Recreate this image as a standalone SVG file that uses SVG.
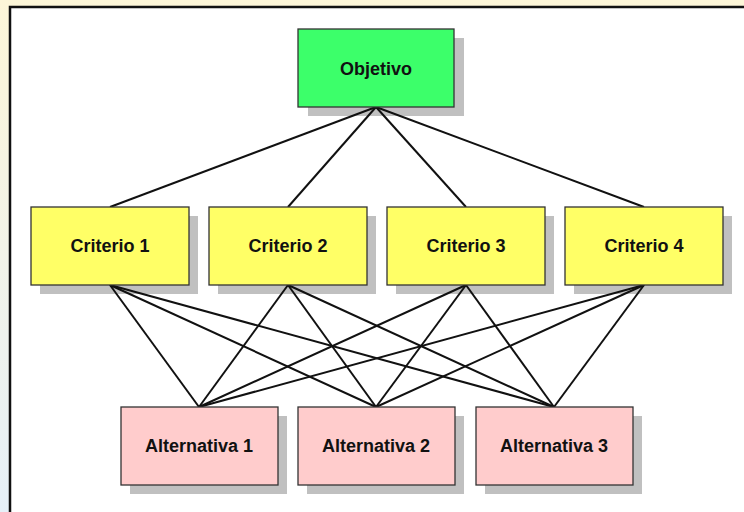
<svg xmlns="http://www.w3.org/2000/svg" width="744" height="512" viewBox="0 0 744 512">
<defs>
<linearGradient id="bg" x1="0" y1="0" x2="0" y2="1">
<stop offset="0" stop-color="#fdf6d8"/>
<stop offset="1" stop-color="#e6f0f8"/>
</linearGradient>
</defs>
<style>
.sh{fill:#c0c0c0}
.bx{stroke:#333;stroke-width:1.3}
.obj{fill:#3cff6a}
.cri{fill:#ffff66}
.alt{fill:#ffcccc}
text{font-family:"Liberation Sans",Arial,sans-serif;font-weight:bold;font-size:18px;fill:#111;text-anchor:middle;dominant-baseline:central}
#connectors line{stroke:#111;stroke-width:2}
</style>
<rect width="744" height="512" fill="url(#bg)"/>
<rect x="10" y="7" width="740" height="510" fill="#fff" stroke="#111" stroke-width="2.5"/>
<g id="shadows">
<rect class="sh" x="308" y="38" width="156" height="78"/>
<rect class="sh" x="40" y="216" width="158" height="78"/>
<rect class="sh" x="218" y="216" width="158" height="78"/>
<rect class="sh" x="396" y="216" width="158" height="78"/>
<rect class="sh" x="574" y="216" width="158" height="78"/>
<rect class="sh" x="130" y="416" width="157" height="78"/>
<rect class="sh" x="307" y="416" width="157" height="78"/>
<rect class="sh" x="485" y="416" width="157" height="78"/>
</g>
<g id="connectors">
<line x1="376" y1="107" x2="110" y2="207"/>
<line x1="376" y1="107" x2="288" y2="207"/>
<line x1="376" y1="107" x2="466" y2="207"/>
<line x1="376" y1="107" x2="644" y2="207"/>
<line x1="110" y1="285" x2="199" y2="407"/>
<line x1="110" y1="285" x2="376" y2="407"/>
<line x1="110" y1="285" x2="554" y2="407"/>
<line x1="288" y1="285" x2="199" y2="407"/>
<line x1="288" y1="285" x2="376" y2="407"/>
<line x1="288" y1="285" x2="554" y2="407"/>
<line x1="466" y1="285" x2="199" y2="407"/>
<line x1="466" y1="285" x2="376" y2="407"/>
<line x1="466" y1="285" x2="554" y2="407"/>
<line x1="644" y1="285" x2="199" y2="407"/>
<line x1="644" y1="285" x2="376" y2="407"/>
<line x1="644" y1="285" x2="554" y2="407"/>
</g>
<g id="objetivo">
<rect class="bx obj" x="298" y="29" width="156" height="78"/>
<text x="376" y="69">Objetivo</text>
</g>
<g id="criterio1">
<rect class="bx cri" x="31" y="207" width="158" height="78"/>
<text x="110" y="246">Criterio 1</text>
</g>
<g id="criterio2">
<rect class="bx cri" x="209" y="207" width="158" height="78"/>
<text x="288" y="246">Criterio 2</text>
</g>
<g id="criterio3">
<rect class="bx cri" x="387" y="207" width="158" height="78"/>
<text x="466" y="246">Criterio 3</text>
</g>
<g id="criterio4">
<rect class="bx cri" x="565" y="207" width="158" height="78"/>
<text x="644" y="246">Criterio 4</text>
</g>
<g id="alternativa1">
<rect class="bx alt" x="121" y="407" width="157" height="78"/>
<text x="199" y="446">Alternativa 1</text>
</g>
<g id="alternativa2">
<rect class="bx alt" x="298" y="407" width="157" height="78"/>
<text x="376" y="446">Alternativa 2</text>
</g>
<g id="alternativa3">
<rect class="bx alt" x="476" y="407" width="157" height="78"/>
<text x="554" y="446">Alternativa 3</text>
</g>
</svg>
